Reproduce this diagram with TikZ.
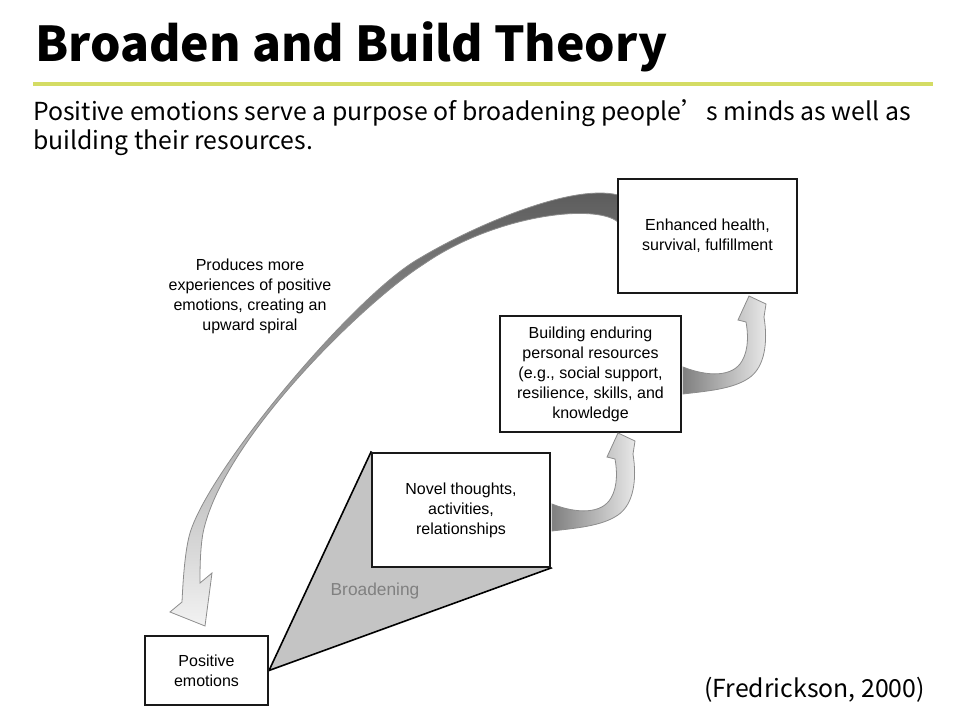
\documentclass[tikz,border=0pt]{standalone}
\usepackage{fontspec}
\setmainfont{Liberation Sans}
\newfontfamily\slidefont{Noto Sans CJK SC}
\usepackage{tikz}
\usetikzlibrary{
  positioning,
  calc
}
\definecolor{ruleGreen}{HTML}{D4DC64}
\definecolor{wedgeGray}{HTML}{C4C4C4}
\tikzstyle{stage}=[draw=black!90, line width=1.5pt, fill=white, align=center, inner sep=0pt, font=\fontsize{12}{15}\selectfont]
\tikzstyle{ribbon}=[left color=black!50, right color=black!8, draw=black!45, line width=0.6pt]
\pgfdeclarelayer{bg}
\pgfsetlayers{bg,main}

% 小さい曲がった矢印 (#1 = 出発点)
\newcommand{\bendribbon}[1]{%
  \begin{scope}[shift={#1}]
    \path[ribbon] (0,0) .. controls (25,10) and (50,10) .. (59,-6)
      .. controls (66,-18) and (65,-34) .. (63,-45)
      -- (55,-47) -- (66,-71) -- (83,-63) -- (81,-50)
      .. controls (85,-25) and (82,0) .. (66,11)
      .. controls (50,22) and (25,24) .. (0,27) -- cycle;
  \end{scope}}

\begin{document}
\begin{tikzpicture}[x=0.75pt, y=-0.75pt]
  \useasboundingbox (0,0) rectangle (960,720);

  % 見出し
  \node (title) at (35,62) [anchor=base west, inner sep=0pt,
    font=\slidefont\bfseries\fontsize{36}{42}\selectfont] {Broaden and Build Theory};
  \draw[ruleGreen, line width=3pt] (33,84) -- (933,84);

  % 本文
  \node (intro) at (33,150) [anchor=base west, inner sep=0pt, align=left,
    font=\slidefont\fontsize{18.6}{21.75}\selectfont]
    {Positive emotions serve a purpose of broadening people’s minds as well as\\building their resources.};
  \node (cite) at (925,697) [anchor=base east, inner sep=0pt,
    font=\slidefont\fontsize{18.6}{21.75}\selectfont] {(Fredrickson, 2000)};

  % 四つの箱
  \node[stage, minimum width=134pt, minimum height=85.5pt] (health) at (707.5,236)
    {Enhanced health,\\survival, fulfillment};
  \node[stage, minimum width=135.75pt, minimum height=87pt] (build) at (590.5,374)
    {Building enduring\\personal resources\\(e.g., social support,\\resilience, skills, and\\knowledge};
  \node[stage, minimum width=133.5pt, minimum height=85.5pt] (novel) at (461,510)
    {Novel thoughts,\\activities,\\relationships};
  \node[stage, minimum width=92.25pt, minimum height=51.75pt] (pos) at (206.5,670.5)
    {Positive\\emotions};

  \begin{pgfonlayer}{bg}
    % 広がりを表す三角形
    \draw[fill=wedgeGray, line width=1.2pt] (pos.east) -- (novel.north west)
      -- (novel.south east) -- cycle;

    % 大きな矢印
    \path[draw=black!45, line width=0.6pt, top color=black!65, middle color=black!38, bottom color=black!5]
      (618,195) .. controls (570,183) and (470,228) .. (420,258)
      .. controls (357,293) and (210,467) .. (190,533)
      .. controls (185,550) and (183,580) .. (182,602)
      -- (170,612) -- (205,626) -- (212,573) -- (200,583)
      .. controls (200,570) and (200,550) .. (203,533)
      .. controls (222,440) and (364,302) .. (424,264)
      .. controls (495,215) and (595,203) .. (618,222) -- cycle;
  \end{pgfonlayer}

  \node (spiral) at (250,296) [align=center, font=\fontsize{12}{15}\selectfont]
    {Produces more\\experiences of positive\\emotions, creating an\\upward spiral};
  \node (broad) at (375,591) [text=black!50, font=\fontsize{13}{15}\selectfont] {Broadening};

  % 小さい矢印
  \bendribbon{($(novel.east)+(1,-6)$)}
  \bendribbon{($(build.east)+(1,-7)$)}
\end{tikzpicture}
\end{document}
